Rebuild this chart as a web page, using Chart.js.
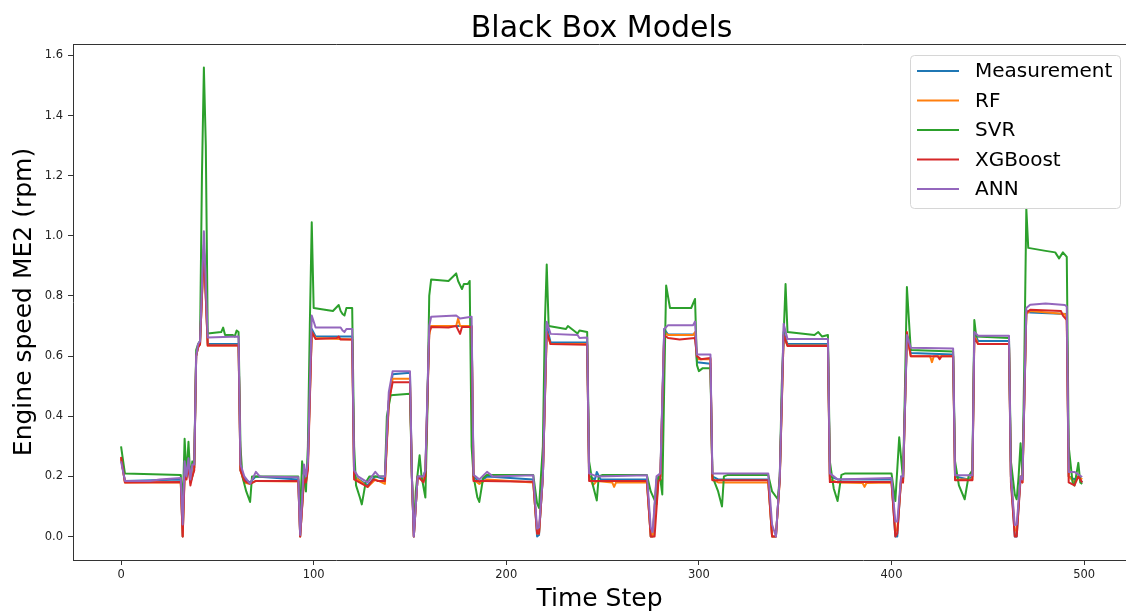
<!DOCTYPE html>
<html>
<head>
<meta charset="utf-8">
<title>Black Box Models</title>
<script src="https://cdn.jsdelivr.net/npm/chart.js@4/dist/chart.umd.min.js"></script>
<style>
  html, body { margin: 0; padding: 0; background: #fff; }
  canvas { display: block; }
</style>
</head>
<body>
<canvas id="chart" width="1126" height="615"></canvas>
<script>
// series as [time step, value] points
const measurement = [[0,0.26],[2,0.185],[31,0.19],[32,0.0],[33,0.22],[34,0.2],[35,0.24],[36,0.18],[37,0.2],[38,0.23],[39,0.6],[40,0.63],[41,0.64],[43,0.97],[45,0.64],[61,0.64],[62,0.22],[64,0.19],[67,0.18],[70,0.2],[92,0.19],[93,0.0],[95,0.2],[96,0.19],[97,0.25],[99,0.69],[101,0.665],[120,0.665],[121,0.2],[128,0.17],[132,0.2],[137,0.19],[139,0.45],[141,0.54],[150,0.545],[151,0.2],[152,0.0],[154,0.2],[157,0.2],[158,0.22],[160,0.68],[161,0.7],[182,0.7],[183,0.2],[186,0.18],[190,0.2],[214,0.19],[216,0.0],[217,0.005],[219,0.2],[221,0.7],[223,0.645],[242,0.645],[243,0.2],[246,0.19],[247,0.215],[249,0.19],[273,0.19],[275,0.0],[276,0.0],[278,0.19],[280,0.2],[282,0.69],[284,0.672],[298,0.672],[299,0.58],[306,0.575],[307,0.2],[310,0.19],[336,0.19],[338,0.0],[340,0.0],[342,0.2],[344,0.68],[346,0.64],[367,0.64],[368,0.2],[372,0.19],[400,0.19],[402,0.0],[403,0.0],[405,0.2],[406,0.19],[408,0.66],[410,0.61],[432,0.605],[433,0.2],[440,0.19],[442,0.2],[443,0.68],[445,0.65],[461,0.65],[462,0.2],[464,0.0],[465,0.0],[467,0.2],[468,0.19],[470,0.75],[472,0.745],[491,0.74],[492,0.2],[495,0.19],[497,0.2],[499,0.18]];

const rf = [[0,0.26],[2,0.18],[31,0.18],[32,0.0],[33,0.21],[34,0.2],[35,0.24],[36,0.18],[37,0.2],[38,0.23],[39,0.6],[40,0.63],[41,0.64],[43,0.96],[45,0.635],[61,0.635],[62,0.22],[64,0.18],[67,0.175],[70,0.185],[92,0.183],[93,0.0],[95,0.2],[96,0.18],[97,0.24],[99,0.68],[101,0.66],[120,0.655],[121,0.2],[128,0.165],[132,0.19],[137,0.175],[139,0.44],[141,0.525],[150,0.525],[151,0.2],[152,0.0],[154,0.2],[157,0.19],[158,0.21],[160,0.67],[161,0.7],[174,0.7],[175,0.725],[176,0.7],[182,0.7],[183,0.19],[186,0.175],[190,0.19],[214,0.18],[216,0.01],[217,0.01],[219,0.2],[221,0.68],[223,0.64],[242,0.64],[243,0.2],[245,0.17],[247,0.185],[255,0.18],[256,0.165],[257,0.18],[273,0.18],[275,0.0],[276,0.0],[278,0.18],[280,0.2],[282,0.68],[284,0.67],[297,0.67],[298,0.68],[299,0.59],[306,0.59],[307,0.19],[310,0.18],[336,0.18],[338,0.0],[340,0.0],[342,0.19],[344,0.67],[346,0.635],[367,0.635],[368,0.19],[372,0.18],[385,0.178],[386,0.165],[387,0.178],[400,0.18],[402,0.02],[403,0.02],[405,0.19],[406,0.18],[408,0.67],[410,0.6],[420,0.6],[421,0.58],[422,0.6],[432,0.6],[433,0.19],[442,0.19],[443,0.67],[445,0.64],[461,0.64],[462,0.2],[464,0.02],[465,0.02],[467,0.2],[468,0.18],[470,0.74],[472,0.75],[490,0.74],[491,0.72],[492,0.2],[495,0.18],[497,0.2],[499,0.19]];

const svr = [[0,0.3],[2,0.21],[31,0.205],[32,0.1],[33,0.325],[34,0.2],[35,0.315],[36,0.19],[37,0.25],[38,0.24],[39,0.62],[40,0.64],[41,0.65],[42,1.2],[43,1.56],[44,1.3],[45,0.675],[52,0.68],[53,0.695],[54,0.67],[58,0.67],[59,0.665],[60,0.685],[61,0.68],[62,0.3],[63,0.2],[65,0.15],[67,0.115],[68,0.2],[69,0.2],[92,0.2],[93,0.08],[94,0.25],[95,0.2],[96,0.15],[97,0.3],[98,0.7],[99,1.045],[100,0.76],[110,0.75],[113,0.77],[114,0.75],[115,0.74],[116,0.735],[117,0.76],[120,0.76],[121,0.3],[122,0.17],[124,0.13],[125,0.107],[127,0.18],[129,0.2],[137,0.2],[138,0.4],[140,0.47],[150,0.475],[151,0.2],[152,0.02],[153,0.15],[155,0.27],[156,0.2],[158,0.13],[159,0.4],[160,0.8],[161,0.855],[170,0.85],[174,0.875],[175,0.85],[177,0.823],[178,0.84],[180,0.84],[181,0.85],[182,0.3],[183,0.2],[185,0.13],[186,0.115],[188,0.195],[190,0.205],[214,0.205],[216,0.11],[217,0.095],[218,0.2],[219,0.3],[220,0.7],[221,0.905],[222,0.7],[231,0.69],[232,0.7],[234,0.69],[237,0.675],[238,0.685],[242,0.68],[243,0.25],[245,0.17],[247,0.12],[248,0.2],[250,0.205],[273,0.205],[275,0.15],[278,0.107],[279,0.2],[280,0.19],[281,0.14],[282,0.5],[283,0.835],[285,0.76],[296,0.76],[298,0.79],[299,0.57],[300,0.55],[302,0.56],[306,0.56],[307,0.2],[310,0.15],[312,0.1],[313,0.2],[315,0.205],[336,0.205],[338,0.15],[341,0.124],[342,0.2],[343,0.5],[345,0.84],[346,0.68],[360,0.67],[362,0.68],[364,0.665],[367,0.67],[368,0.25],[370,0.16],[372,0.118],[374,0.205],[376,0.21],[400,0.21],[402,0.118],[404,0.33],[406,0.19],[407,0.5],[408,0.83],[410,0.62],[432,0.615],[433,0.25],[435,0.17],[438,0.124],[440,0.2],[442,0.22],[443,0.72],[444,0.665],[461,0.66],[462,0.25],[464,0.14],[465,0.124],[466,0.2],[467,0.31],[468,0.2],[469,0.6],[470,1.09],[471,0.96],[480,0.95],[485,0.945],[487,0.925],[489,0.945],[491,0.93],[492,0.3],[494,0.18],[495,0.17],[497,0.245],[498,0.18],[499,0.175]];

const xgboost = [[0,0.265],[2,0.18],[31,0.181],[32,0.0],[33,0.2],[34,0.19],[35,0.24],[36,0.17],[37,0.2],[38,0.22],[39,0.6],[40,0.63],[41,0.64],[43,0.955],[45,0.635],[61,0.635],[62,0.22],[64,0.185],[67,0.175],[70,0.185],[92,0.185],[93,0.0],[95,0.19],[96,0.18],[97,0.22],[99,0.68],[101,0.657],[112,0.66],[113,0.665],[114,0.655],[120,0.655],[121,0.19],[128,0.165],[131,0.19],[133,0.185],[137,0.185],[139,0.45],[141,0.513],[150,0.513],[151,0.19],[152,0.0],[154,0.2],[157,0.18],[158,0.2],[160,0.68],[161,0.697],[170,0.695],[174,0.7],[176,0.674],[177,0.697],[182,0.697],[183,0.185],[188,0.185],[214,0.182],[216,0.01],[217,0.01],[219,0.2],[221,0.68],[223,0.64],[242,0.638],[243,0.185],[273,0.185],[275,0.0],[277,0.0],[279,0.185],[280,0.19],[282,0.67],[284,0.66],[290,0.655],[298,0.66],[299,0.6],[301,0.59],[306,0.594],[307,0.187],[336,0.187],[338,0.0],[340,0.0],[342,0.19],[344,0.67],[346,0.634],[367,0.634],[368,0.181],[400,0.181],[402,0.0],[403,0.01],[405,0.19],[406,0.18],[408,0.68],[410,0.6],[424,0.6],[425,0.59],[426,0.6],[432,0.6],[433,0.187],[442,0.187],[443,0.66],[445,0.64],[461,0.64],[462,0.18],[464,0.0],[465,0.0],[467,0.19],[468,0.18],[470,0.745],[472,0.754],[488,0.75],[489,0.735],[491,0.72],[492,0.18],[495,0.17],[497,0.2],[499,0.18]];

const ann = [[0,0.25],[2,0.185],[15,0.185],[20,0.19],[31,0.195],[32,0.04],[33,0.25],[34,0.2],[35,0.26],[36,0.19],[37,0.24],[38,0.24],[39,0.6],[40,0.64],[41,0.65],[43,1.015],[45,0.662],[61,0.665],[62,0.24],[64,0.2],[67,0.175],[70,0.215],[72,0.2],[92,0.197],[93,0.005],[95,0.24],[96,0.2],[97,0.25],[99,0.735],[101,0.695],[114,0.695],[115,0.685],[116,0.68],[117,0.69],[120,0.69],[121,0.22],[123,0.2],[128,0.18],[132,0.215],[134,0.2],[137,0.2],[139,0.48],[141,0.55],[150,0.55],[151,0.2],[152,0.0],[154,0.2],[157,0.2],[158,0.22],[160,0.7],[161,0.731],[174,0.735],[176,0.725],[182,0.731],[183,0.205],[186,0.19],[190,0.215],[193,0.2],[214,0.204],[216,0.026],[217,0.03],[219,0.2],[221,0.714],[223,0.674],[237,0.67],[238,0.66],[242,0.662],[243,0.21],[247,0.2],[273,0.204],[275,0.03],[276,0.015],[278,0.2],[280,0.21],[282,0.69],[284,0.703],[297,0.703],[298,0.715],[299,0.605],[306,0.605],[307,0.21],[336,0.21],[338,0.04],[340,0.0],[342,0.2],[344,0.708],[346,0.657],[367,0.657],[368,0.21],[372,0.19],[400,0.195],[402,0.05],[403,0.05],[405,0.2],[406,0.2],[408,0.67],[410,0.628],[432,0.625],[433,0.204],[442,0.204],[443,0.68],[445,0.668],[461,0.668],[462,0.2],[464,0.038],[465,0.04],[467,0.2],[468,0.19],[470,0.76],[472,0.771],[480,0.775],[490,0.77],[491,0.765],[492,0.215],[495,0.215],[499,0.198]];

const seriesNames = ["Measurement", "RF", "SVR", "XGBoost", "ANN"];
const seriesData = [measurement, rf, svr, xgboost, ann];
const seriesColors = ["#1f77b4", "#ff7f0e", "#2ca02c", "#d62728", "#9467bd"];

const xTicks = [0, 100, 200, 300, 400, 500];
const yTicks = [0.0, 0.2, 0.4, 0.6, 0.8, 1.0, 1.2, 1.4, 1.6];

const FONT = "'DejaVu Sans', 'Liberation Sans', sans-serif";

// title, top spine and the legend box inside the axes (matplotlib style)
const figureExtras = {
  id: "figureExtras",
  afterDraw(chart) {
    const ctx = chart.ctx;
    const area = chart.chartArea;
    const xs = chart.scales.x;
    ctx.save();

    ctx.strokeStyle = "#333";
    ctx.lineWidth = 1;
    ctx.beginPath();
    ctx.moveTo(area.left, area.top + 0.5);
    ctx.lineTo(area.right, area.top + 0.5);
    ctx.stroke();

    ctx.fillStyle = "#000";
    ctx.font = "30px " + FONT;
    ctx.textAlign = "center";
    ctx.textBaseline = "alphabetic";
    ctx.fillText("Black Box Models", xs.getPixelForValue(249.5), 37);

    // legend
    const bx = 910.5, by = 55.5, bw = 210, bh = 153, r = 4;
    ctx.beginPath();
    ctx.moveTo(bx + r, by);
    ctx.arcTo(bx + bw, by, bx + bw, by + bh, r);
    ctx.arcTo(bx + bw, by + bh, bx, by + bh, r);
    ctx.arcTo(bx, by + bh, bx, by, r);
    ctx.arcTo(bx, by, bx + bw, by, r);
    ctx.closePath();
    ctx.fillStyle = "rgba(255,255,255,0.8)";
    ctx.fill();
    ctx.strokeStyle = "#d6d6d6";
    ctx.stroke();

    ctx.font = "20px " + FONT;
    ctx.textAlign = "left";
    ctx.textBaseline = "middle";
    chart.data.datasets.forEach((ds, i) => {
      const y = 71 + i * 29.5;
      ctx.strokeStyle = ds.borderColor;
      ctx.lineWidth = 2;
      ctx.beginPath();
      ctx.moveTo(917, y);
      ctx.lineTo(959, y);
      ctx.stroke();
      ctx.fillStyle = "#000";
      ctx.fillText(ds.label, 975, y + 1);
    });
    ctx.restore();
  }
};

const ctx = document.getElementById("chart").getContext("2d");
const config = {
  type: "line",
  data: {
    datasets: seriesNames.map((name, i) => ({
      label: name,
      data: seriesData[i].map(([x, y]) => ({ x: x, y: y })),
      borderColor: seriesColors[i],
      backgroundColor: seriesColors[i],
      borderWidth: 2,
      pointRadius: 0,
      tension: 0,
      fill: false,
      borderJoinStyle: "round",
      order: seriesNames.length - i,
    })),
  },
  options: {
    responsive: false,
    animation: false,
    devicePixelRatio: 1,
    layout: { padding: { top: 44, right: 0, left: 0, bottom: 0 } },
    scales: {
      x: {
        type: "linear",
        min: -24.95,
        max: 521.75,
        afterBuildTicks: (scale) => {
          scale.ticks = xTicks.map((v) => ({ value: v }));
        },
        afterFit: (scale) => {
          scale.height = 55;
        },
        ticks: {
          autoSkip: false,
          maxRotation: 0,
          padding: 3,
          color: "#222",
          font: { family: FONT, size: 11.5 },
          callback: (v) => String(v),
        },
        grid: {
          drawOnChartArea: false,
          drawTicks: true,
          tickLength: 5,
          color: "#333",
        },
        border: { display: true, color: "#333", width: 1 },
        title: {
          display: true,
          text: "Time Step",
          color: "#000",
          font: { family: FONT, size: 25 },
          padding: { top: 0, bottom: 1 },
        },
      },
      y: {
        type: "linear",
        min: -0.078,
        max: 1.638,
        afterBuildTicks: (scale) => {
          scale.ticks = yTicks.map((v) => ({ value: v }));
        },
        afterFit: (scale) => {
          scale.width = 73;
        },
        ticks: {
          padding: 5,
          color: "#222",
          font: { family: FONT, size: 11.5 },
          callback: (v) => v.toFixed(1),
        },
        grid: {
          drawOnChartArea: false,
          drawTicks: true,
          tickLength: 5,
          color: "#333",
        },
        border: { display: true, color: "#333", width: 1 },
        title: {
          display: true,
          text: "Engine speed ME2 (rpm)",
          color: "#000",
          font: { family: FONT, size: 25 },
          padding: { top: 9, bottom: 0 },
        },
      },
    },
    plugins: {
      legend: { display: false },
      title: { display: false },
      tooltip: { enabled: false },
    },
  },
  plugins: [figureExtras],
};
const chartRender = new Chart(ctx, config);
</script>
</body>
</html>
